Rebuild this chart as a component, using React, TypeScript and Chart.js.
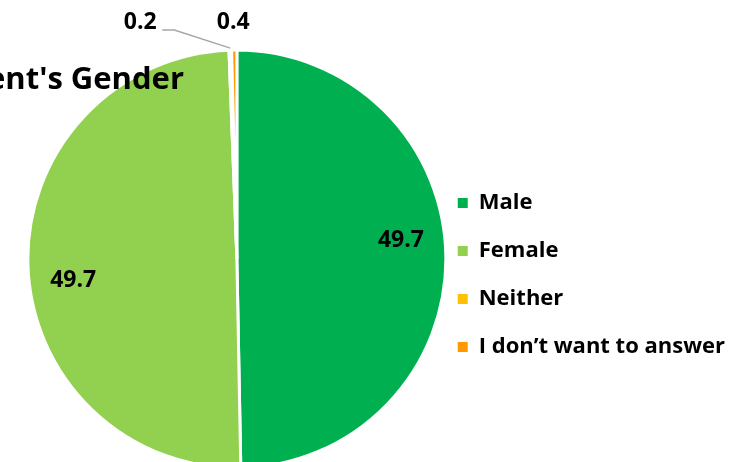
import React, { useEffect, useRef } from 'react';
import { Chart, registerables } from 'chart.js';

Chart.register(...registerables);

const categories = ['Male', 'Female', 'Neither', 'I don’t want to answer'];
const values = [49.7, 49.7, 0.2, 0.4];
const valueLabels = ['49.7', '49.7', '0.2', '0.4'];
const colors = ['#00B050', '#92D050', '#FFC000', '#FF9900'];
const chartTitle = "Respondent's Gender";

const FONT = '"Open Sans", Lato, "DejaVu Sans", sans-serif';

const titlePlugin = {
  id: 'cutTitle',
  afterDraw(chart: any) {
    const ctx = chart.ctx;
    ctx.save();
    ctx.font = `bold 31px ${FONT}`;
    ctx.fillStyle = '#000';
    ctx.textAlign = 'right';
    ctx.textBaseline = 'alphabetic';
    ctx.fillText(chartTitle, 184, 89);
    ctx.restore();
  },
};

const labelPlugin = {
  id: 'sliceLabels',
  afterDatasetsDraw(chart: any) {
    const ctx = chart.ctx;
    const meta = chart.getDatasetMeta(0);
    ctx.save();
    ctx.font = `bold 23px ${FONT}`;
    ctx.fillStyle = '#000';
    ctx.textAlign = 'center';
    ctx.textBaseline = 'middle';
    meta.data.forEach((arc: any, i: number) => {
      const { x, y, startAngle, endAngle, outerRadius } = arc.getProps(
        ['x', 'y', 'startAngle', 'endAngle', 'outerRadius'],
        true
      );
      const mid = (startAngle + endAngle) / 2;
      if (values[i] >= 5) {
        const a = mid - (6 * Math.PI) / 180;
        const r = outerRadius * 0.79;
        ctx.fillText(valueLabels[i], x + r * Math.cos(a), y + r * Math.sin(a));
      } else {
        const ex = x + outerRadius * Math.cos(mid);
        const ey = y + outerRadius * Math.sin(mid);
        if (i === 2) {
          ctx.strokeStyle = '#A6A6A6';
          ctx.lineWidth = 1.5;
          ctx.beginPath();
          ctx.moveTo(ex, ey - 2);
          ctx.lineTo(ex - 56, ey - 20);
          ctx.lineTo(ex - 68, ey - 20);
          ctx.stroke();
          ctx.fillText(valueLabels[i], ex - 90, ey - 28);
        } else {
          ctx.fillText(valueLabels[i], ex - 1, ey - 28);
        }
      }
    });
    ctx.restore();
  },
};

export default function App() {
  const ref = useRef<HTMLCanvasElement | null>(null);

  useEffect(() => {
    if (!ref.current) return;
    Chart.defaults.font.family = FONT;
    const baseGen = (Chart as any).overrides.pie.plugins.legend.labels.generateLabels;
    const chart = new Chart(ref.current, {
      type: 'pie',
      data: {
        labels: categories,
        datasets: [
          {
            data: values,
            backgroundColor: colors,
            borderColor: '#FFFFFF',
            borderWidth: 3,
            radius: 209,
            clip: false as any,
          } as any,
        ],
      },
      options: {
        animation: false,
        responsive: true,
        maintainAspectRatio: false,
        layout: { padding: { left: 42, right: 21, top: 56, bottom: 0 } },
        plugins: {
          tooltip: { enabled: false },
          legend: {
            display: true,
            position: 'right',
            align: 'center',
            title: {
              display: true,
              text: '',
              font: { size: 10, lineHeight: 1 },
              padding: { top: 22, bottom: 0 },
            },
            labels: {
              boxWidth: 10,
              boxHeight: 10,
              padding: 26,
              color: '#000000',
              font: { size: 22, weight: 'bold', family: FONT },
              generateLabels: (c: any) =>
                baseGen(c).map((l: any) => ({ ...l, lineWidth: 0, strokeStyle: 'transparent' })),
            },
          },
        },
      },
      plugins: [labelPlugin, titlePlugin],
    } as any);
    return () => chart.destroy();
  }, []);

  return (
    <div style={{ position: 'absolute', left: 0, top: 0, width: 756, height: 462, background: '#fff' }}>
      <canvas ref={ref} />
    </div>
  );
}
